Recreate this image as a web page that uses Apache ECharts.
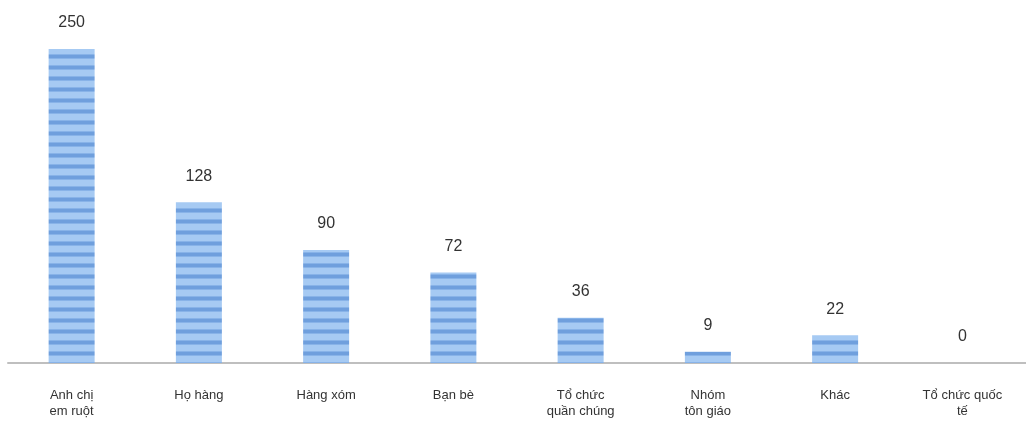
<!DOCTYPE html>
<html>
<head>
<meta charset="utf-8">
<script src="https://cdn.jsdelivr.net/npm/echarts@6/dist/echarts.min.js"></script>
<style>
html,body{margin:0;padding:0;background:#fff;}
#chart{width:1026px;height:430px;}
</style>
</head>
<body>
<div id="chart"></div>
<script>
const categories = ["Anh chị\nem ruột", "Họ hàng", "Hàng xóm", "Bạn bè", "Tổ chức\nquần chúng", "Nhóm\ntôn giáo", "Khác", "Tổ chức quốc\ntế"];
const values = [250, 128, 90, 72, 36, 9, 22, 0];

function stripePattern() {
  const c = document.createElement('canvas');
  c.width = 4; c.height = 11;
  const ctx = c.getContext('2d');
  ctx.fillStyle = '#a6caf3';
  ctx.fillRect(0, 0, 4, 11);
  ctx.fillStyle = '#6f9fdd';
  ctx.fillRect(0, 0, 4, 3);
  ctx.fillStyle = '#88b3e8';
  ctx.fillRect(0, 3, 4, 1);
  ctx.fillRect(0, 10, 4, 1);
  return c;
}

const chart = echarts.init(document.getElementById('chart'));
chart.setOption({
  animation: false,
  grid: { left: 8, width: 1022, top: 49, bottom: 67, containLabel: false },
  xAxis: {
    type: 'category',
    data: categories,
    axisLine: { lineStyle: { color: '#bfbfbf', width: 2 } },
    axisTick: { show: false },
    axisLabel: {
      interval: 0, margin: 24, color: '#333',
      fontFamily: 'Liberation Sans Narrow, Liberation Sans, sans-serif',
      fontSize: 13, lineHeight: 16
    }
  },
  yAxis: {
    type: 'value', min: 0, max: 250, show: false,
    splitLine: { show: false }
  },
  series: [{
    type: 'bar',
    data: values,
    barWidth: 46,
    itemStyle: {
      color: { image: stripePattern(), repeat: 'repeat' }
    },
    label: {
      show: true, position: 'top', distance: 18,
      color: '#333', fontSize: 16,
      fontFamily: 'Liberation Sans Narrow, Liberation Sans, sans-serif'
    }
  }]
});
</script>
</body>
</html>
